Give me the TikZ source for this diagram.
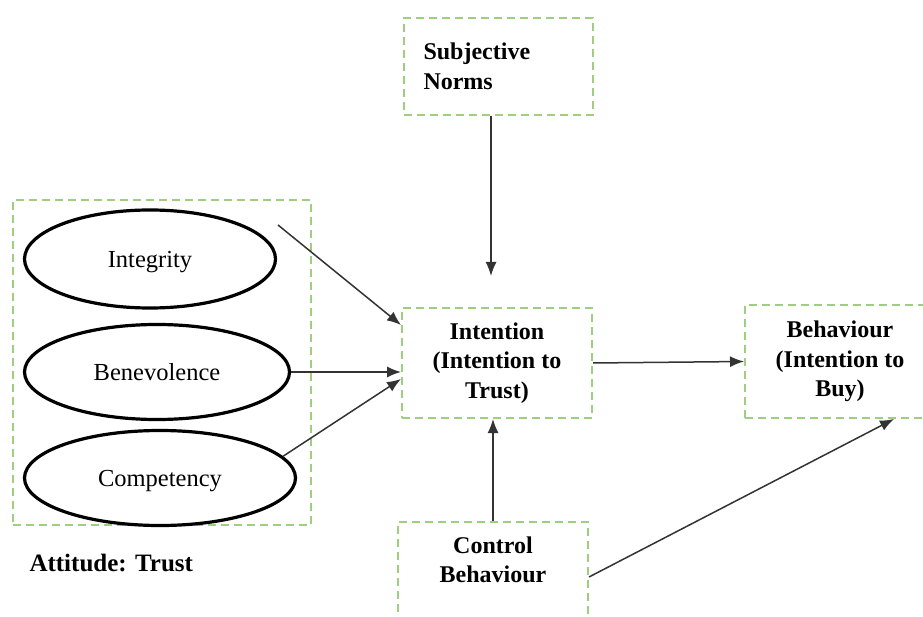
\documentclass[tikz,border=0pt]{standalone}
\usepackage{fontspec}
\setmainfont{Liberation Serif}
\usetikzlibrary{arrows.meta,calc,shapes.geometric}
\definecolor{dgreen}{RGB}{160,206,128}
\begin{document}
\begin{tikzpicture}[x=1pt,y=-1pt,
 gbox/.style={draw=dgreen, line width=2pt, dash pattern=on 8pt off 5pt, rectangle, inner sep=0pt},
 oval/.style={draw, ellipse, line width=3.2pt, inner sep=0pt},
 bt/.style={font=\fontsize{24}{29.5}\selectfont\bfseries, align=center},
 et/.style={font=\fontsize{24.5}{28}\selectfont, text depth=2pt},
 arr/.style={-{Latex[length=14pt,width=11pt]}, line width=1.5pt, draw=black!80}]
\useasboundingbox (0,0) rectangle (923,617);
\clip (0,0) rectangle (923,617);
\fill[white] (0,0) rectangle (923,617);
\node[gbox, minimum width=189pt, minimum height=97pt, text width=150pt, align=left, font=\fontsize{24}{29.5}\selectfont\bfseries] (sn) at (498.5,66.5) {Subjective\\Norms};
\node[gbox, minimum width=298pt, minimum height=325pt] (att) at (162,362.5) {};
\node[oval, minimum width=251pt, minimum height=98pt, et] (integ) at (150,259) {\raisebox{-3pt}{Integrity}};
\node[oval, minimum width=265pt, minimum height=95pt, et] (bene) at (157,372) {\raisebox{-2pt}{Benevolence}};
\node[oval, minimum width=271pt, minimum height=95pt, et] (comp) at (160,478) {\raisebox{-2pt}{Competency}};
\node[gbox, bt, minimum width=190pt, minimum height=110pt] (intn) at (497,363) {Intention\\(Intention to\\Trust)};
\node[gbox, bt, minimum width=190pt, minimum height=113pt] (beh) at (840,361.5) {Behaviour\\(Intention to\\Buy)};
\node[gbox, minimum width=190pt, minimum height=110pt] (cb) at (493,577) {};
\node[bt] (cbt) at (493,560) {Control\\Behaviour};
\node[bt, anchor=west, font=\fontsize{25}{29.5}\selectfont\bfseries] (attl) at (26,563) {Attitude: Trust};
\coordinate (snend) at (491,276);
\coordinate (i0) at (278,225);
\draw[arr] (sn.south -| snend) -- (snend);
\draw[arr] (i0) -- ($(intn.north west)+(0,18)$);
\draw[arr] (bene.east) -- (bene.east -| intn.west);
\draw[arr] (comp.10) -- ($(intn.south west)+(0,-40)$);
\draw[arr] (intn.east) -- (beh.west);
\draw[arr] (cb.north) -- (cb.north |- intn.south);
\draw[arr] (cb.east) -- ($(beh.south west)+(150,0)$);
\end{tikzpicture}
\end{document}
